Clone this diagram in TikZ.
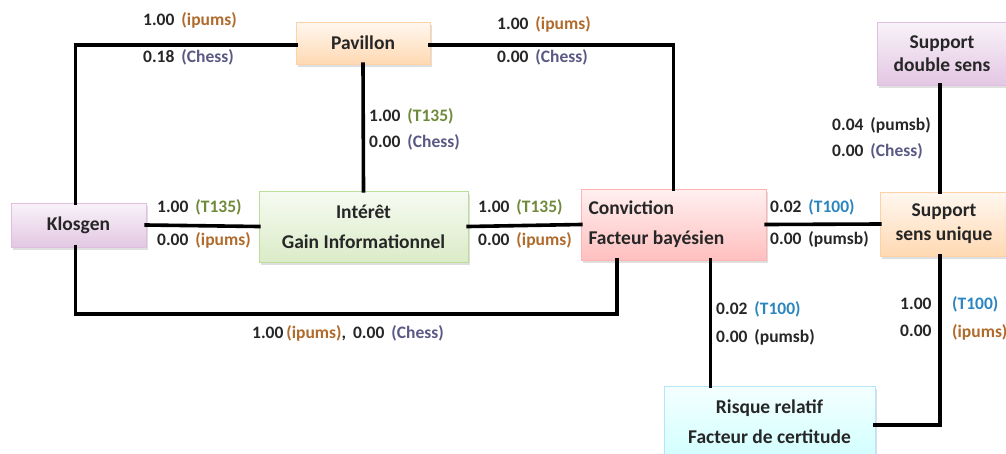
\documentclass[tikz,border=0pt]{standalone}
\usepackage{fontspec}
\setmainfont{Carlito}
\usetikzlibrary{shadows}
\definecolor{cip}{HTML}{B06A2C}
\definecolor{cch}{HTML}{5A5884}
\definecolor{ctg}{HTML}{6E8A3A}
\definecolor{ctb}{HTML}{2B86C0}
\definecolor{cnum}{HTML}{262626}
\newcommand{\ipu}{\textcolor{cip}{(ipums)}}
\newcommand{\chs}{\textcolor{cch}{(Chess)}}
\newcommand{\tot}{\textcolor{ctg}{(T135)}}
\newcommand{\toc}{\textcolor{ctb}{(T100)}}
\newcommand{\pmb}{\textcolor{cnum}{(pumsb)}}
\newcommand{\gp}{\hspace{0.4em}}
\tikzset{
  box/.style={rectangle, inner sep=2pt, align=center, text=cnum,
    font=\bfseries\fontsize{19.5}{30}\selectfont,
    drop shadow={opacity=0.25, shadow xshift=2pt, shadow yshift=-3pt}},
  lab/.style={anchor=west, inner sep=0pt, text=cnum,
    font=\bfseries\fontsize{17.5}{20}\selectfont},
  conn/.style={line width=3.6pt, line cap=rect}
}
\begin{document}
\begin{tikzpicture}[x=1pt,y=-1pt]
\useasboundingbox (0,0) rectangle (1006,453);
\node[box, minimum width=134pt, minimum height=42pt, draw=orange!35, top color=orange!6, bottom color=orange!30] (pav) at (363,43) {Pavillon};
\node[box, minimum width=135pt, minimum height=44pt, draw=violet!25, top color=violet!5, bottom color=violet!22] (kl) at (78.5,225) {Klosgen};
\node[box, minimum width=209pt, minimum height=71pt, draw=green!35!olive!40, top color=green!30!olive!5, bottom color=green!30!olive!22] (int) at (363.5,226.5) {Intérêt\\Gain Informationnel};
\node[box, minimum width=185pt, minimum height=71pt, draw=red!30, top color=red!6, bottom color=red!25, align=flush left, text width=170pt] (conv) at (673.5,224.5) {Conviction\\Facteur bayésien};
\node[box, minimum width=128pt, minimum height=64pt, draw=orange!35, top color=orange!6, bottom color=orange!30, font=\bfseries\fontsize{19.5}{24}\selectfont] (su) at (944,224) {Support\\sens unique};
\node[box, minimum width=130pt, minimum height=63pt, draw=violet!25, top color=violet!5, bottom color=violet!22, font=\bfseries\fontsize{19.5}{23}\selectfont] (sd) at (942,53.5) {Support\\double sens};
\node[box, minimum width=211pt, minimum height=72pt, draw=cyan!30, top color=cyan!4, bottom color=cyan!18] (risk) at (769.5,422) {Risque relatif\\Facteur de certitude};

\draw[conn] ([xshift=-3pt]kl.north) |- ([yshift=-2pt]pav.west);
\draw[conn] ([yshift=-2pt]pav.east) -| (conv.north);
\draw[conn] (pav.south) -- (int.north);
\draw[conn] (kl.east) -- (int.west);
\draw[conn] (int.east) -- (conv.west);
\draw[conn] ([xshift=-3pt]kl.south) -- ++(0,67) coordinate (kb) -| ([xshift=36pt]conv.south west);
\draw[conn] (conv.east) -- (su.west);
\draw[conn] ([xshift=37pt]conv.south) -- ([xshift=37pt]conv.south |- risk.north);
\draw[conn] ([yshift=-3pt]risk.east) -| ([xshift=-4pt]su.south);
\draw[conn] ([xshift=-2pt]sd.south) -- ([xshift=-2pt]sd.south |- su.north);

\node[lab] (l1) at (143,20) {1.00\gp\ipu};
\node[lab] (l2) at (143,57) {0.18\gp\chs};
\node[lab] (l3) at (497,24) {1.00\gp\ipu};
\node[lab] (l4) at (497,57) {0.00\gp\chs};
\node[lab] (l5) at (369,116) {1.00\gp\tot};
\node[lab] (l6) at (369,142) {0.00\gp\chs};
\node[lab] (l7) at (157,207) {1.00\gp\tot};
\node[lab] (l8) at (157,240) {0.00\gp\ipu};
\node[lab] (l9) at (478,207) {1.00\gp\tot};
\node[lab] (l10) at (478,240) {0.00\gp\ipu};
\node[lab] (l11) at (252,333) {1.00\,\ipu,\gp0.00\gp\chs};
\node[lab] (l12) at (770,207) {0.02\gp\toc};
\node[lab] (l13) at (770,239) {0.00\gp\pmb};
\node[lab] (l14) at (832,125) {0.04\gp\pmb};
\node[lab] (l15) at (832,151) {0.00\gp\chs};
\node[lab] (l16) at (716,309) {0.02\gp\toc};
\node[lab] (l17) at (716,337) {0.00\gp\pmb};
\node[lab] (l18) at (900,304) {1.00};
\node[lab] (l19) at (900,331) {0.00};
\node[lab] (l20) at (952,304) {\toc};
\node[lab] (l21) at (952,332) {\ipu};
\end{tikzpicture}
\end{document}
